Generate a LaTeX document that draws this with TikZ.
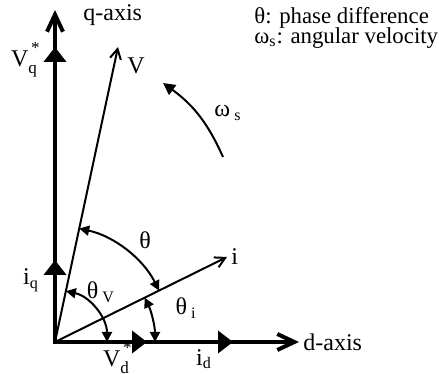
\documentclass[tikz,border=0pt]{standalone}
\usepackage{fontspec}
\setmainfont{Liberation Serif}
\usetikzlibrary{arrows.meta,positioning,angles}
\newcommand{\smallidx}{\fontsize{8.5}{9}\selectfont}
\newcommand{\subsup}[3]{#1\rlap{\raisebox{1.25ex}{\smallidx\,#3}}\raisebox{-0.55ex}{\smallidx #2}}
\tikzset{
  axis/.style={line width=2pt,line cap=rect},
  tri/.style={-{Triangle[length=7.5pt,width=11pt]}},
  barb/.style={-{Straight Barb[length=8.5pt,width=8pt]}},
  vec/.style={line width=1pt,-{Straight Barb[length=5pt,width=5.5pt]}},
  angmark/.style={draw,line width=1pt,{Triangle[length=5pt,width=5pt]}-{Triangle[length=5pt,width=5pt]}},
  spin/.style={line width=1pt,-{Triangle[length=6pt,width=6pt]}},
  lbl/.style={font=\fontsize{12}{14}\selectfont,inner sep=1pt},
  legend/.style={lbl,font=\fontsize{11.4}{13}\selectfont,anchor=west},
}

\begin{document}
\begin{tikzpicture}[x=0.5pt,y=0.5pt]
  \useasboundingbox (-55,-32) rectangle (384,342);
  \coordinate (O) at (0,0);
  \coordinate (iq) at (0,82);
  \coordinate (vq) at (0,295);
  \coordinate (qtip) at (0,332);
  \coordinate (vd) at (92,0);
  \coordinate (id) at (178,0);
  \coordinate (dtip) at (244,0);
  \coordinate (vtip) at (63,295);
  \coordinate (itip) at (172,85);
  \coordinate (ws1) at (168,185);
  \coordinate (ws2) at (108,259);

  \draw[axis,tri] (O) -- (iq);
  \draw[axis,tri] (iq) -- (vq);
  \draw[axis,barb] (vq) -- (qtip);
  \draw[axis,tri] (O) -- (vd);
  \draw[axis,tri] (vd) -- (id);
  \draw[axis,barb] (id) -- (dtip);
  \draw[vec] (O) -- (vtip);
  \draw[vec] (O) -- (itip);
  \pic[angmark,angle radius=58pt] {angle=itip--O--vtip};
  \pic[angmark,angle radius=26pt] {angle=dtip--O--vtip};
  \pic[angmark,angle radius=50pt] {angle=dtip--O--itip};
  \draw[spin] (ws1) to[bend right=15] (ws2);

  \node[lbl,anchor=west] (qlab) at (26,327) {q-axis};
  \node[lbl,right=1pt of dtip] (dlab) {d-axis};
  \node[lbl,anchor=base] (vqlab) at (-31,275) {\subsup{V}{q}{*}};
  \node[lbl] (vlab) at (81,276) {V};
  \node[lbl,right=1pt of itip] (ilab) {i};
  \node[lbl] (iqlab) at (-24,62) {i\textsubscript{q}};
  \node[lbl,anchor=base] (vdlab) at (61,-25) {\subsup{V}{d}{*}};
  \node[lbl] (idlab) at (149,-17) {i\textsubscript{d}};
  \node[lbl] (thlab) at (90,102) {θ};
  \node[lbl] (thvlab) at (46,50) {θ\,\textsubscript{V}};
  \node[lbl] (thilab) at (131,34) {θ\,\textsubscript{i}};
  \node[lbl] (wslab) at (173,229) {ω\,\textsubscript{s}};
  \node[legend] (leg1) at (197,324) {θ: phase difference};
  \node[legend] (leg2) at (197,304) {ω\textsubscript{s}: angular velocity};
\end{tikzpicture}
\end{document}
